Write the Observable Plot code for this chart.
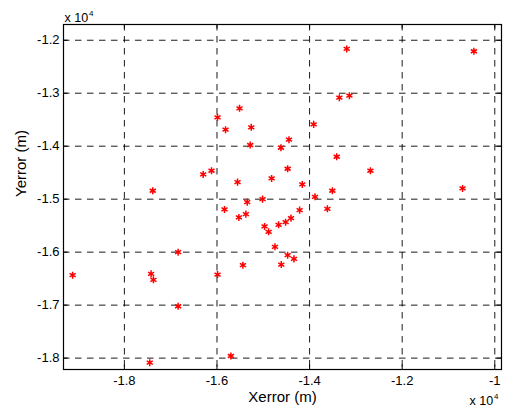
<!DOCTYPE html>
<html>
<head>
<meta charset="utf-8">
<script src="https://cdn.jsdelivr.net/npm/d3@7"></script>
<script src="https://cdn.jsdelivr.net/npm/@observablehq/plot@0.6"></script>
<style>
  html, body { margin: 0; padding: 0; background: #fff; }
  #chart { width: 505px; height: 415px; }
</style>
</head>
<body>
<div id="chart"></div>
<script>
// Error values in metres
const xError = [
  -19118, -17387, -17423, -17373, -16839, -16839, -17452, -16298, -16118, -15988,
  -15815, -15513, -15260, -15282, -15556, -15837, -15527, -15376, -15347, -15015,
  -15988, -15440, -15700, -14972, -14885, -14748, -14820, -14619, -14445, -14474,
  -14157, -14669, -14518, -14402, -14215, -14474, -14337, -14611, -13912, -13883,
  -13616, -13508, -13414, -13357, -13140, -13198, -12686, -10696, -10451
];
const yError = [
  -16435, -14841, -16410, -16523, -16000, -17021, -18086, -14533, -14463, -13455,
  -13688, -13285, -13644, -13978, -14678, -15194, -15345, -15282, -15056, -14999,
  -16423, -16246, -17960, -15515, -15616, -15900, -14608, -14029, -13877, -14426,
  -14722, -15484, -15434, -15358, -15207, -16057, -16127, -16234, -13588, -14955,
  -15182, -14841, -14199, -13084, -13046, -12164, -14463, -14797, -12208
];
const xTicks = [-18000, -16000, -14000, -12000, -10000];
const yTicks = [-18000, -17000, -16000, -15000, -14000, -13000, -12000];
const xTickLabels = ["-1.8", "-1.6", "-1.4", "-1.2", "-1"];
const yTickLabels = ["-1.8", "-1.7", "-1.6", "-1.5", "-1.4", "-1.3", "-1.2"];
const xTitle = "Xerror (m)";
const yTitle = "Yerror (m)";
const exponentBase = "x 10";
const exponentPower = "4";

const points = xError.map((x, i) => ({x, y: yError[i]}));
const font = "'Liberation Sans', Arial, Helvetica, sans-serif";
const W = 505, H = 415;
const mL = 63, mR = 4, mT = 24, mB = 46;
const frameW = W - mL - mR, frameH = H - mT - mB;
const tickLen = 4.5;

const chart = Plot.plot({
  width: W,
  height: H,
  marginLeft: mL,
  marginRight: mR,
  marginTop: mT,
  marginBottom: mB,
  style: {fontFamily: font, fontSize: "13px", color: "#000", background: "#fff"},
  x: {
    domain: [-19315, -9855],
    ticks: xTicks,
    tickFormat: d => xTickLabels[xTicks.indexOf(d)],
    tickSize: 0,
    tickPadding: 6,
    label: null
  },
  y: {
    domain: [-18215, -11703],
    ticks: yTicks,
    tickFormat: d => yTickLabels[yTicks.indexOf(d)],
    tickSize: 0,
    tickPadding: 4,
    label: null
  },
  marks: [
    Plot.ruleX(xTicks, {stroke: "#000", strokeWidth: 0.9, strokeDasharray: "6.5,5.5"}),
    Plot.ruleY(yTicks, {stroke: "#000", strokeWidth: 0.9, strokeDasharray: "6.5,5.5"}),
    // inward ticks on all four sides
    Plot.tickX(xTicks, {x: d => d, insetTop: frameH - tickLen, stroke: "#000", strokeWidth: 1}),
    Plot.tickX(xTicks, {x: d => d, insetBottom: frameH - tickLen, stroke: "#000", strokeWidth: 1}),
    Plot.tickY(yTicks, {y: d => d, insetRight: frameW - tickLen, stroke: "#000", strokeWidth: 1}),
    Plot.tickY(yTicks, {y: d => d, insetLeft: frameW - tickLen, stroke: "#000", strokeWidth: 1}),
    Plot.frame({stroke: "#000", strokeWidth: 1.2}),
    Plot.dot(points, {x: "x", y: "y", symbol: "asterisk", r: 3.3, stroke: "#ff0000", strokeWidth: 1.5}),
    // axis titles
    Plot.text([xTitle], {text: d => d, frameAnchor: "bottom", dy: 32.5, fontSize: 15, fill: "#000"}),
    Plot.text([yTitle], {text: d => d, frameAnchor: "left", rotate: -90, dx: -42, fontSize: 15, fill: "#000"}),
    // exponent annotations
    Plot.text([exponentBase], {text: d => d, frameAnchor: "top-left", textAnchor: "start", lineAnchor: "bottom", dx: 1, dy: -3, fontSize: 12.5, fill: "#000"}),
    Plot.text([exponentPower], {text: d => d, frameAnchor: "top-left", textAnchor: "start", lineAnchor: "bottom", dx: 25.5, dy: -9, fontSize: 8, fill: "#000"}),
    Plot.text([exponentBase], {text: d => d, frameAnchor: "bottom-right", textAnchor: "start", lineAnchor: "bottom", dx: -32, dy: 35, fontSize: 12.5, fill: "#000"}),
    Plot.text([exponentPower], {text: d => d, frameAnchor: "bottom-right", textAnchor: "start", lineAnchor: "bottom", dx: -7.5, dy: 29, fontSize: 8, fill: "#000"})
  ]
});
document.getElementById("chart").appendChild(chart);
</script>
</body>
</html>
